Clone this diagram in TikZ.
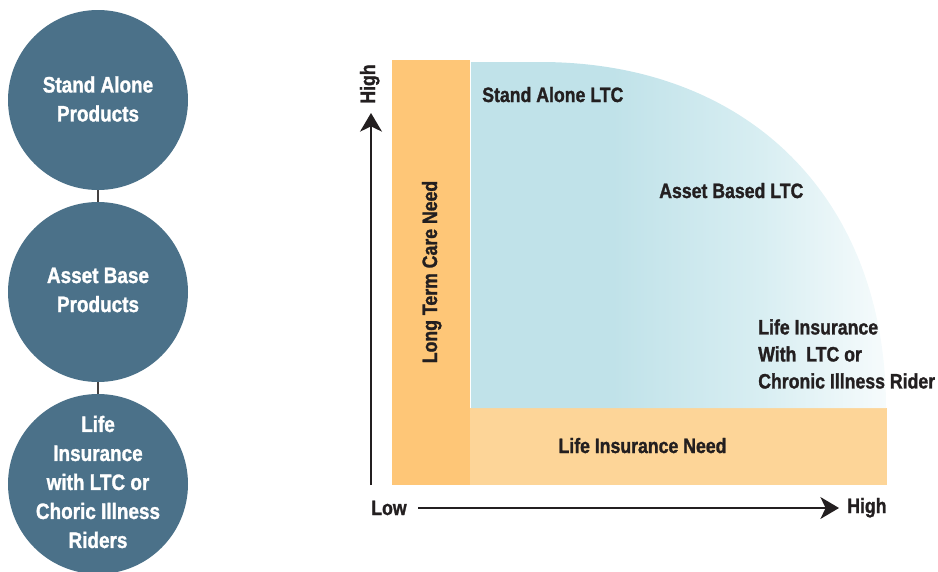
\documentclass[tikz,border=0pt]{standalone}
\usepackage{fontspec}
\setmainfont{Liberation Sans}[FakeStretch=0.85, BoldFeatures={FakeBold=1.3}]
\usetikzlibrary{arrows.meta}

\definecolor{prodblue}{HTML}{4B7189}
\definecolor{ltcorange}{HTML}{FEC677}
\definecolor{lifeorange}{HTML}{FDD598}
\definecolor{ltcblue}{HTML}{C0E2E9}
\definecolor{ltcmid}{HTML}{D8EEF2}
\definecolor{ltcpale}{HTML}{F6FBFC}
\definecolor{inkdark}{HTML}{231F20}

% fade of the LTC region from light blue to near white, left to right
\pgfdeclarehorizontalshading{ltcfade}{100bp}{%
  color(0bp)=(ltcblue); color(42bp)=(ltcblue); color(60bp)=(ltcmid);
  color(75bp)=(ltcpale); color(100bp)=(ltcpale)}

\begin{document}
\begin{tikzpicture}[x=0.75pt,y=-0.75pt,
  product/.style={circle, fill=prodblue, minimum size=135pt, inner sep=0pt},
  prodtext/.style={text=white, align=center, inner sep=0pt,
    font=\bfseries\fontsize{16.7}{21.75}\selectfont},
  link/.style={draw=inkdark!85, line width=0.8pt},
  label/.style={text=inkdark, inner sep=0pt,
    font=\bfseries\fontsize{15.6}{20.25}\selectfont},
  axisline/.style={draw=inkdark, line width=1.1pt,
    -{Stealth[length=14pt, width=16.5pt, inset=4pt]}},
]
\useasboundingbox (0,0) rectangle (938,571);
\clip (0,0) rectangle (938,571);

% product circles
\node[product] (p1) at (98,100) {};
\node[product] (p2) at (98,292) {};
\node[product] (p3) at (98,484) {};
\node[prodtext] (t1) at (98,99) {Stand Alone\\Products};
\node[prodtext] (t2) at (98,290) {Asset Base\\Products};
\node[prodtext] (t3) at (98,482) {Life\\Insurance\\with LTC or\\Choric Illness\\Riders};
\draw[link] (p1.south) -- (p2.north);
\draw[link] (p2.south) -- (p3.north);

% need bands
\fill[ltcorange] (392,60) rectangle (470,485);
\fill[lifeorange] (470,408) rectangle (887,485);

% LTC region with rounded outer corner
\shade[shading=ltcfade] (471,408) -- (471,62) -- (540,62)
  .. controls (750,62) and (886,200) .. (886,408) -- cycle;

% labels
\node[label, anchor=base west] (sa) at (482,102) {Stand Alone LTC};
\node[label, anchor=base west] (ab) at (659,198) {Asset Based LTC};
\node[label, anchor=west, align=left] (li) at (758,354)
  {Life Insurance\\With\ \ LTC or\\Chronic Illness Rider};
\node[label, anchor=base] (lin) at (642.5,453) {Life Insurance Need};
\node[label, anchor=base, rotate=90] (ltc) at (437,272) {Long Term Care Need};

% axes
\coordinate (yo) at (371,485);
\coordinate (yt) at (371,113);
\coordinate (xo) at (418,508);
\coordinate (xt) at (839,508);
\draw[axisline] (yo) -- (yt);
\draw[axisline] (xo) -- (xt);
\node[label, anchor=base, rotate=90] (yhigh) at (375,84) {High};
\node[label, anchor=base west] (xlow) at (371,515) {Low};
\node[label, anchor=base west] (xhigh) at (847,513) {High};
\end{tikzpicture}
\end{document}
